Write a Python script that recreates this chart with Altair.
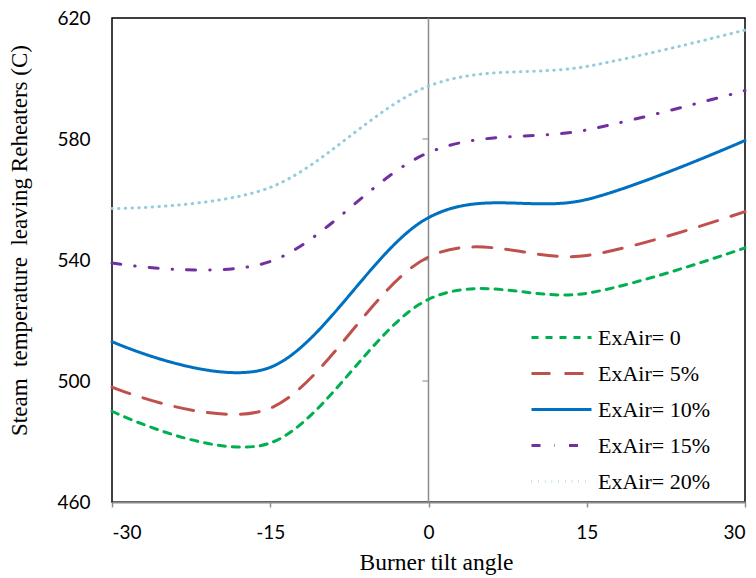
import altair as alt
import pandas as pd

angles = [-30, -15, 0, 15, 30]
series_names = ["ExAir= 0", "ExAir= 5%", "ExAir= 10%", "ExAir= 15%", "ExAir= 20%"]
ex0 = [490, 479.5, 527, 529, 544]
ex5 = [498, 491, 541, 541.5, 556]
ex10 = [513, 504.5, 554, 560, 579.5]
ex15 = [539, 539.5, 575.5, 583, 596]
ex20 = [557, 564, 597.5, 604, 616]
x_ticks = [-30, -15, 0, 15, 30]
y_ticks = [460, 500, 540, 580, 620]

colors = ["#00B050", "#C0504D", "#0070C0", "#7030A0", "#92CDDC"]
dashes = [[7, 7], [19, 14], [1, 0], [9, 14, 0.5, 14], [0.5, 6.2]]

rows = []
for name, vals in zip(series_names, [ex0, ex5, ex10, ex15, ex20]):
    for a, v in zip(angles, vals):
        rows.append({"angle": a, "temp": v, "series": name})
df = pd.DataFrame(rows)

xscale = alt.Scale(domain=[-30, 30], nice=False, zero=False)
yscale = alt.Scale(domain=[460, 620], nice=False, zero=False)

y_title = "Steam\u00a0\u00a0temperature\u00a0\u00a0leaving Reheaters (C)"

lines = alt.Chart(df).mark_line(interpolate="cardinal", strokeWidth=3, strokeCap="round").encode(
    x=alt.X("angle:Q", scale=xscale, axis=alt.Axis(
        values=x_ticks, title="Burner tilt angle", grid=False,
        domainColor="#8c8c8c", domainWidth=2, tickColor="#8c8c8c", tickWidth=1.5, tickSize=5,
        labelExpr="'' + datum.value",
        labelFont="Lato", labelFontSize=19, labelColor="#000", labelPadding=16,
        titleFont="Liberation Serif", titleFontSize=23.5, titleFontWeight="normal", titleColor="#000",
        titlePadding=8, titleX=324)),
    y=alt.Y("temp:Q", scale=yscale, axis=alt.Axis(
        values=y_ticks, title=y_title, grid=False,
        domain=False, ticks=False,
        labelFont="Lato", labelFontSize=19, labelColor="#000", labelPadding=22,
        titleFont="Liberation Serif", titleFontSize=23, titleFontWeight="normal", titleColor="#000",
        titlePadding=25, titleY=222)),
    color=alt.Color("series:N", scale=alt.Scale(domain=series_names, range=colors),
                    sort=series_names,
                    legend=alt.Legend(title=None, orient="none", legendX=438, legendY=308,
                                      symbolType="M-3,0H3", symbolSize=400, symbolStrokeWidth=3,
                                      labelFont="Liberation Serif", labelFontSize=22, labelColor="#000",
                                      rowPadding=13, labelOffset=25)),
    strokeDash=alt.StrokeDash("series:N", scale=alt.Scale(domain=series_names, range=dashes),
                              sort=series_names, legend=None),
)

zero_df = pd.DataFrame({"angle": [0]})
zero_line = alt.Chart(zero_df).mark_rule(color="#8c8c8c", strokeWidth=1.5).encode(
    x=alt.X("angle:Q", scale=xscale)
)

tick_df = pd.DataFrame({"temp": y_ticks[1:-1], "angle": [0] * (len(y_ticks) - 2)})
zero_ticks = alt.Chart(tick_df).mark_tick(orient="horizontal", color="#8c8c8c", thickness=1.5,
                                          size=6, xOffset=-3).encode(
    x=alt.X("angle:Q", scale=xscale),
    y=alt.Y("temp:Q", scale=yscale),
)

chart = alt.layer(zero_line, zero_ticks, lines).properties(
    width=633, height=484,
    autosize=alt.AutoSizeParams(type="none"),
    padding={"left": 104, "top": 10, "right": 3, "bottom": 80},
    background="white",
).configure_view(stroke="#000", strokeWidth=1.5)

chart.save("out.html", embed_options={"renderer": "svg", "actions": False})
